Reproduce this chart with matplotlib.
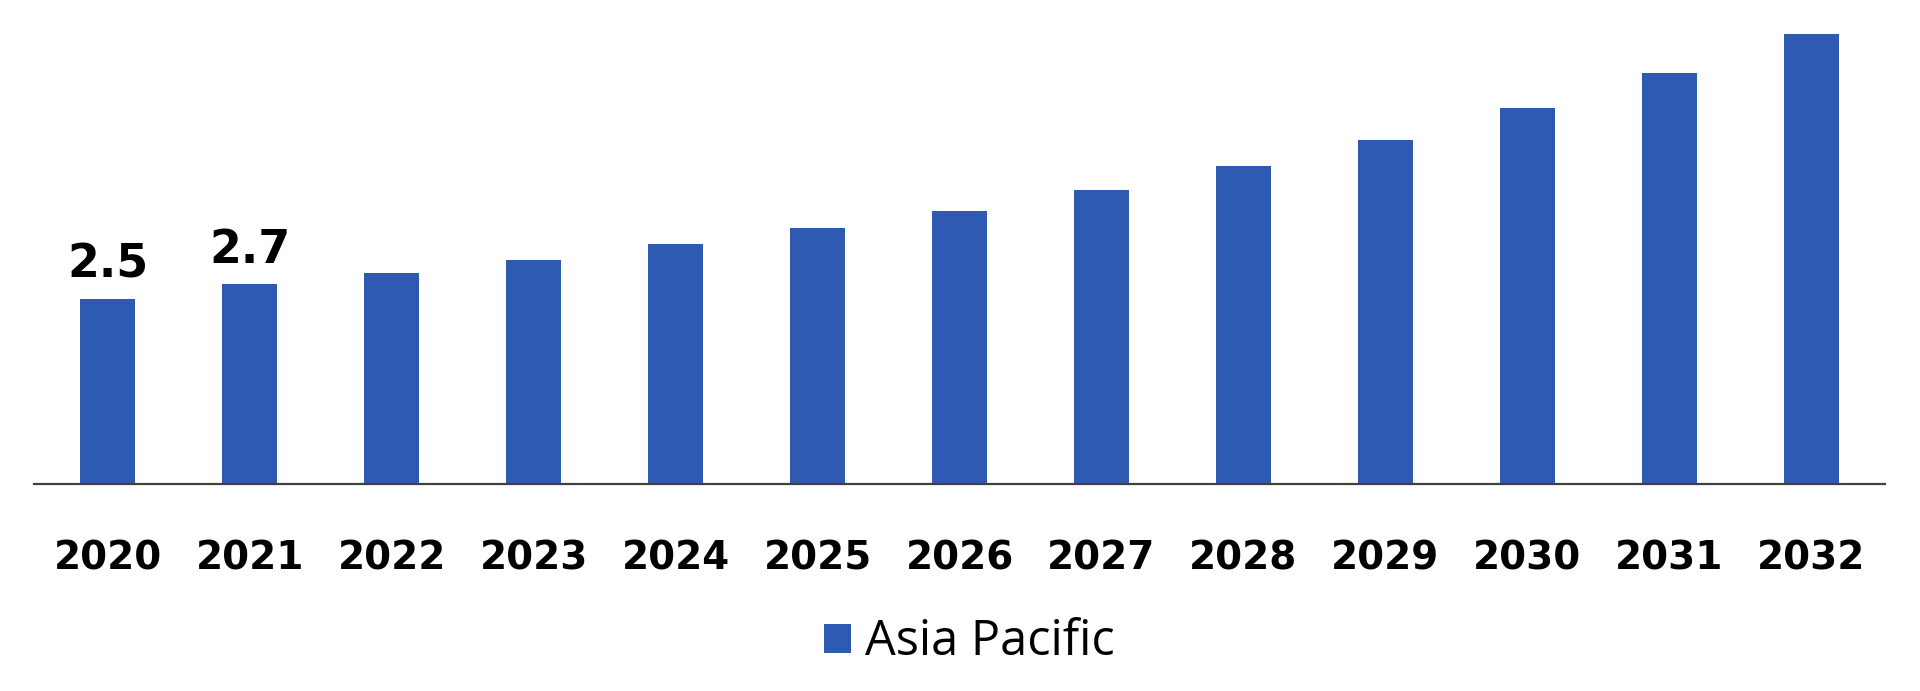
import matplotlib.pyplot as plt
import numpy as np

years = ["2020", "2021", "2022", "2023", "2024", "2025", "2026",
         "2027", "2028", "2029", "2030", "2031", "2032"]
values = [2.5, 2.7, 2.85, 3.03, 3.24, 3.46, 3.68, 3.97, 4.29, 4.64, 5.07, 5.55, 6.08]
shown_labels = ["2.5", "2.7"]  # only the first two bars carry a value
series_name = "Asia Pacific"

bar_color = "#2F5AB1"

fig = plt.figure(figsize=(19.2, 6.91), dpi=100)
ax = fig.add_axes([0.0177, 0.2996, 0.9641, 0.686])

x = np.arange(len(years))
bars = ax.bar(x, values, width=0.39, color=bar_color, label=series_name)

for i, txt in enumerate(shown_labels):
    ax.text(x[i], values[i] + 0.15, txt, ha="center", va="bottom",
            fontsize=33, fontweight="bold", color="black")

ax.set_xlim(-0.52, 12.52)
ax.set_ylim(0, 6.4)
ax.set_xticks(x)
ax.set_xticklabels(years, fontsize=28, fontweight="bold")
ax.tick_params(axis="x", length=0, pad=40)
ax.set_yticks([])
for side in ["top", "left", "right"]:
    ax.spines[side].set_visible(False)
ax.spines["bottom"].set_color("#404040")
ax.spines["bottom"].set_linewidth(1.6)

fig.legend(handles=[bars], labels=[series_name], loc="center",
           bbox_to_anchor=(0.505, 0.07), frameon=False,
           prop={"family": "Open Sans", "size": 35},
           handlelength=0.55, handleheight=0.55, handletextpad=0.3)

fig.savefig("out.png", dpi=100)
